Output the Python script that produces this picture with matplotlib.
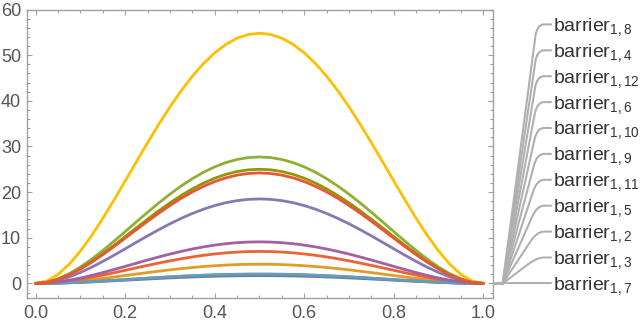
import matplotlib
matplotlib.use('Agg')
import matplotlib.pyplot as plt
import numpy as np
from matplotlib.path import Path
from matplotlib.patches import PathPatch
from matplotlib.transforms import Affine2D
from matplotlib.ticker import MultipleLocator

plt.rcParams['font.family'] = ['Liberation Sans', 'DejaVu Sans']
plt.rcParams['mathtext.fontset'] = 'custom'
plt.rcParams['mathtext.rm'] = 'Liberation Sans'
plt.rcParams['mathtext.it'] = 'Liberation Sans'

# shared bump profile, x = 0 .. 0.5 in steps of 0.025
half_x = [0.0, 0.025, 0.05, 0.075, 0.1, 0.125, 0.15, 0.175, 0.2, 0.225, 0.25,
          0.275, 0.3, 0.325, 0.35, 0.375, 0.4, 0.425, 0.45, 0.475, 0.5]
half_profile = [0.0, 0.0095, 0.0361, 0.0770, 0.1296, 0.1914, 0.2601, 0.3335,
                0.4096, 0.4865, 0.5625, 0.6360, 0.7056, 0.7700, 0.8281, 0.8789,
                0.9216, 0.9555, 0.9801, 0.9950, 1.0]

# series k = 2..12 (barrier_{1,k}), peak height at x = 0.5
series_k = [2, 3, 4, 5, 6, 7, 8, 9, 10, 11, 12]
peaks = [1.7, 4.2, 27.7, 7.0, 18.5, 2.0, 2.05, 54.8, 9.1, 25.0, 24.2]
colors = ['#5E81B5', '#E19C24', '#8FB032', '#EB6235', '#8778B3', '#C56E1A',
          '#5D9EC7', '#FFBF00', '#A5609D', '#929600', '#E95536']

# order of the callout labels, top to bottom
label_order = [8, 4, 12, 6, 10, 9, 11, 5, 2, 3, 7]

xs = np.array(half_x + [1 - v for v in half_x[-2::-1]])
prof = np.array(half_profile + half_profile[-2::-1])

W, H = 640, 321
fig = plt.figure(figsize=(W / 100, H / 100), dpi=100)
left, right, top, bottom = 26.7, 492.7, 9.5, 298.0
ax = fig.add_axes([left / W, 1 - bottom / H, (right - left) / W, (bottom - top) / H])

for k, pk, c in zip(series_k, peaks, colors):
    ax.plot(xs, pk * prof, color=c, lw=2.0, solid_capstyle='round')

ax.set_xlim(-0.02, 1.021)
ax.set_ylim(-3.2, 60)
ax.xaxis.set_major_locator(MultipleLocator(0.2))
ax.xaxis.set_minor_locator(MultipleLocator(0.05))
ax.yaxis.set_major_locator(MultipleLocator(10))
ax.yaxis.set_minor_locator(MultipleLocator(2))
ax.set_xticks(np.arange(0, 1.01, 0.2))
ax.set_xticklabels(['0.0', '0.2', '0.4', '0.6', '0.8', '1.0'])
ax.set_yticks(range(0, 61, 10))
for s in ax.spines.values():
    s.set_color('#a0a0a0')
    s.set_linewidth(1.0)
ax.tick_params(which='both', direction='in', top=True, right=True, color='#a0a0a0', width=0.8)
ax.tick_params(which='major', length=3.5, labelsize=13, labelcolor='#555555')
ax.tick_params(which='minor', length=2)
ax.tick_params(axis='x', pad=5)
ax.tick_params(axis='y', pad=4)

# callouts drawn in pixel coordinates (origin top-left)
pix = Affine2D().scale(1 / W, -1 / H).translate(0, 1) + fig.transFigure
fig.canvas.draw()
ax_px = ax.transData.transform((1.0, 0.0))
y0 = H - ax_px[1]
x_start = right + 1
x_fan = right + 10
x_corner = 537
x_end = 551
gap = 25.9
lc = '#b0b0b0'

for i, k in enumerate(label_order):
    yl = y0 - gap * (len(label_order) - 1 - i)
    if abs(yl - y0) < 1:
        verts = [(x_start, y0), (x_end, yl)]
        codes = [Path.MOVETO, Path.LINETO]
    else:
        dx, dy = x_corner - x_fan, yl - y0
        d = np.hypot(dx, dy)
        r = min(12, d * 0.3)
        bx, by = x_corner - dx / d * r, yl - dy / d * r
        verts = [(x_start, y0), (x_fan, y0), (bx, by), (x_corner, yl),
                 (x_corner + 7, yl), (x_end, yl)]
        codes = [Path.MOVETO, Path.LINETO, Path.LINETO, Path.CURVE3,
                 Path.CURVE3, Path.LINETO]
    fig.add_artist(PathPatch(Path(verts, codes), transform=pix, fill=False,
                             edgecolor=lc, lw=1.5, capstyle='round'))
    fig.text(553 / W, 1 - (yl + 6.5) / H, 'barrier$_{%d,%d}$' % (1, k),
             fontsize=14, color='#333333', ha='left', va='baseline')

fig.savefig('out.png', dpi=100)
